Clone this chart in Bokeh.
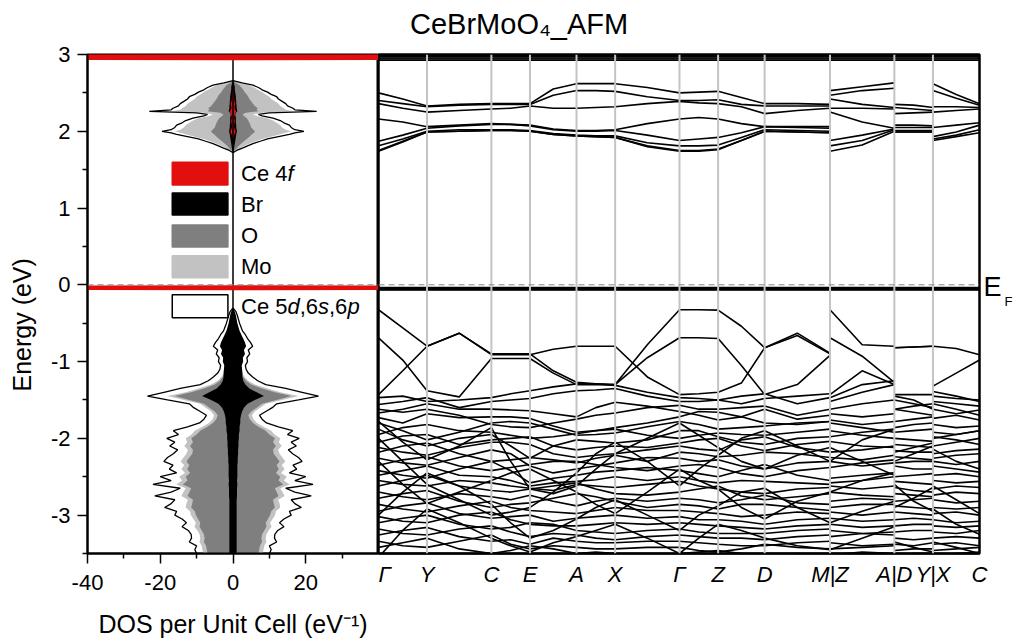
from bokeh.plotting import figure
from bokeh.layouts import row
from bokeh.models import Range1d, FixedTicker, Label, Span, LinearAxis
from bokeh.embed import file_html
from bokeh.resources import INLINE

FONT = "Liberation Sans"

TITLE = "CeBrMoO₄_AFM"
TITLE_X = [142]
DOS_XLABEL = "DOS per Unit Cell (eV⁻¹)"
YLABEL = "Energy (eV)"
YLABEL_PAD = "\u00a0" * 6   # shifts the rotated label down, as in the original

# ---------------- k-path ----------------
K_LABELS = ["Γ", "Y", "C", "E", "A", "X", "Γ", "Z", "D", "M|Z", "A|D", "Y|X", "C"]
K_POS = [0, 49, 114, 153, 200, 239, 304, 343, 390, 456, 521, 560, 607]
K_P1 = [0, 24.5, 49, 81.5, 114, 133.5, 153, 176.5, 200, 219.5,
        239, 271.5, 304, 323.5, 343, 366.5, 390, 423, 456]
K_P2 = [456, 488.5, 521]
K_P3 = [521, 540.5, 560]
K_P4 = [560, 583.5, 607]

# ---------------- bands (eV): 19 pts on path 1, then 3+3+3 ----------------
C1 = [2.50, 2.42, 2.33, 2.35, 2.36, 2.36, 2.36, 2.55, 2.62, 2.62,
      2.62, 2.57, 2.50, 2.51, 2.52, 2.44, 2.36, 2.36, 2.35,
      2.53, 2.58, 2.63, 2.35, 2.34, 2.31, 2.62, 2.48, 2.36]
C2 = [2.40, 2.36, 2.32, 2.34, 2.35, 2.35, 2.35, 2.47, 2.53, 2.53,
      2.52, 2.45, 2.40, 2.40, 2.41, 2.35, 2.33, 2.33, 2.33,
      2.47, 2.53, 2.56, 2.31, 2.29, 2.27, 2.53, 2.43, 2.34]
C3 = [2.36, 2.30, 2.25, 2.27, 2.29, 2.30, 2.33, 2.30, 2.30, 2.31,
      2.32, 2.36, 2.39, 2.37, 2.36, 2.32, 2.23, 2.27, 2.30,
      2.42, 2.35, 2.31, 2.23, 2.24, 2.25, 2.32, 2.32, 2.31]
C4 = [2.16, 2.12, 2.06, 2.08, 2.10, 2.09, 2.08, 2.03, 2.01, 2.01,
      2.02, 2.10, 2.16, 2.18, 2.16, 2.10, 2.06, 2.06, 2.06,
      2.30, 2.30, 2.29, 2.08, 2.08, 2.07, 2.25, 2.27, 2.29]
C5 = [1.87, 1.95, 2.04, 2.07, 2.09, 2.09, 2.07, 2.02, 2.00, 2.00,
      2.01, 1.95, 1.88, 1.90, 1.92, 1.98, 2.06, 2.05, 2.04,
      2.25, 2.12, 2.04, 2.05, 2.05, 2.05, 2.05, 2.08, 2.11]
C6 = [1.81, 1.90, 2.00, 2.02, 2.02, 2.02, 2.01, 1.97, 1.95, 1.94,
      1.94, 1.85, 1.81, 1.81, 1.82, 1.92, 2.02, 2.01, 2.00,
      1.88, 1.95, 2.03, 2.01, 2.01, 2.01, 1.93, 1.99, 2.08]
C7 = [1.74, 1.86, 1.99, 2.00, 2.01, 2.01, 2.00, 1.96, 1.94, 1.93,
      1.92, 1.80, 1.74, 1.74, 1.76, 1.88, 2.00, 1.99, 1.98,
      1.81, 1.88, 2.02, 1.99, 1.99, 1.99, 1.90, 1.95, 2.02]
C8 = [1.75, 1.87, 1.99, 2.00, 2.01, 2.01, 2.00, 1.96, 1.94, 1.93,
      1.92, 1.81, 1.75, 1.75, 1.77, 1.88, 2.00, 1.99, 1.98,
      1.74, 1.82, 2.00, 1.99, 1.99, 1.99, 1.88, 1.93, 1.98]

VA = [-0.325, -0.56, -0.80, -0.63, -0.91, -0.91, -0.91, -0.84, -0.80, -0.80,
      -0.80, -1.20, -1.43, -1.42, -1.40, -1.28, -0.82, -0.66, -0.90,
      -1.43, -1.12, -1.30, -0.82, -0.81, -0.80, -1.32, -1.15, -0.98]
VB = [-0.69, -0.98, -1.38, -1.46, -0.96, -0.96, -0.96, -1.15, -1.30, -1.30,
      -1.30, -0.95, -0.69, -0.69, -0.70, -1.05, -1.43, -1.30, -0.92,
      -0.69, -0.93, -1.27, -1.43, -1.43, -1.43, -1.39, -1.45, -1.52]
VC = [-1.43, -1.12, -0.80, -0.63, -0.90, -0.90, -0.90, -1.12, -1.27, -1.29,
      -1.30, -0.78, -0.325, -0.325, -0.33, -0.54, -0.82, -0.63, -0.89,
      -0.325, -0.78, -0.80, -0.82, -0.81, -0.80, -0.80, -0.83, -0.91]
D1 = [-1.47, -1.45, -1.52, -1.50, -1.47, -1.42, -1.38, -1.33, -1.29, -1.29,
      -1.31, -1.40, -1.47, -1.48, -1.50, -1.45, -1.42, -1.55, -1.47,
      -1.47, -1.30, -1.25, -1.45, -1.50, -1.62, -1.45, -1.48, -1.50]
D2 = [-1.56, -1.52, -1.47, -1.60, -1.52, -1.50, -1.48, -1.42, -1.38, -1.37,
      -1.35, -1.45, -1.52, -1.52, -1.50, -1.55, -1.48, -1.45, -1.42,
      -1.52, -1.40, -1.30, -1.50, -1.55, -1.60, -1.52, -1.55, -1.58]
D3 = [-1.62, -1.66, -1.62, -1.70, -1.82, -1.85, -1.86, -1.80, -1.75, -1.70,
      -1.67, -1.60, -1.57, -1.62, -1.62, -1.60, -1.58, -1.70, -1.62,
      -1.62, -1.55, -1.50, -1.62, -1.58, -1.55, -1.55, -1.62, -1.70]
D4 = [-1.67, -1.62, -1.55, -1.62, -1.62, -1.63, -1.64, -1.68, -1.72, -1.60,
      -1.53, -1.58, -1.65, -1.70, -1.76, -1.72, -1.62, -1.75, -1.70,
      -1.68, -1.72, -1.68, -1.62, -1.66, -1.70, -1.62, -1.68, -1.63]
D5 = [-1.73, -1.80, -1.68, -1.73, -1.72, -1.72, -1.74, -1.84, -1.92, -1.90,
      -1.86, -1.80, -1.72, -1.65, -1.66, -1.72, -1.80, -1.82, -1.78,
      -1.76, -1.82, -1.78, -1.78, -1.75, -1.72, -1.74, -1.70, -1.76]
V1 = [-1.80, -1.90, -2.02, -1.92, -1.80, -1.78, -1.80, -1.88, -1.96, -1.95,
      -1.93, -1.85, -1.78, -1.82, -1.88, -1.86, -1.84, -1.80, -1.78,
      -1.80, -1.86, -1.92, -1.86, -1.82, -1.80, -1.82, -1.86, -1.84]
V2 = [-1.95, -1.86, -1.82, -1.90, -1.92, -1.96, -2.00, -1.98, -1.94, -1.90,
      -1.88, -1.96, -2.00, -1.96, -1.93, -1.95, -1.96, -1.92, -1.88,
      -1.90, -1.96, -2.00, -1.92, -1.90, -1.88, -1.92, -1.95, -1.90]
V3 = [-1.88, -2.02, -2.10, -2.00, -1.95, -2.10, -2.26, -2.10, -2.02, -2.04,
      -2.06, -2.02, -1.90, -1.90, -1.98, -2.05, -2.08, -2.00, -1.98,
      -1.98, -1.92, -1.88, -2.00, -2.02, -2.04, -1.98, -2.02, -2.08]
V4 = [-2.05, -1.97, -1.95, -2.08, -2.02, -2.00, -1.98, -2.10, -2.15, -2.12,
      -2.10, -2.12, -2.06, -2.02, -2.00, -2.10, -2.16, -2.08, -2.04,
      -2.04, -2.10, -2.12, -2.08, -2.10, -2.12, -2.10, -2.05, -2.00]
V5 = [-2.12, -2.18, -2.22, -2.12, -2.05, -2.05, -2.08, -2.20, -2.25, -2.22,
      -2.20, -2.15, -2.10, -2.14, -2.16, -2.02, -1.98, -2.12, -2.18,
      -2.18, -2.15, -2.10, -2.16, -2.18, -2.18, -2.20, -2.16, -2.14]
V6 = [-2.18, -2.10, -2.06, -2.20, -2.30, -2.28, -2.25, -2.28, -2.32, -2.26,
      -2.22, -2.30, -2.18, -2.20, -2.24, -2.22, -2.18, -2.20, -2.25,
      -2.25, -2.28, -2.22, -2.24, -2.26, -2.28, -2.26, -2.22, -2.20]
V7 = [-2.26, -2.32, -2.35, -2.25, -2.15, -2.20, -2.36, -2.45, -2.40, -2.36,
      -2.32, -2.25, -2.26, -2.30, -2.28, -2.36, -2.40, -2.32, -2.30,
      -2.30, -2.36, -2.32, -2.32, -2.30, -2.30, -2.30, -2.34, -2.30]
V8 = [-2.35, -2.28, -2.24, -2.36, -2.42, -2.38, -2.34, -2.30, -2.30, -2.34,
      -2.38, -2.42, -2.36, -2.34, -2.38, -2.46, -2.50, -2.42, -2.38,
      -2.38, -2.32, -2.28, -2.36, -2.40, -2.40, -2.36, -2.40, -2.44]
V9 = [-2.42, -2.48, -2.52, -2.40, -2.30, -2.42, -2.58, -2.52, -2.48, -2.44,
      -2.42, -2.38, -2.42, -2.46, -2.50, -2.42, -2.34, -2.48, -2.55,
      -2.52, -2.48, -2.45, -2.50, -2.48, -2.46, -2.48, -2.46, -2.50]
V10 = [-2.48, -2.42, -2.36, -2.48, -2.50, -2.55, -2.62, -2.58, -2.56, -2.54,
       -2.50, -2.55, -2.50, -2.55, -2.58, -2.55, -2.56, -2.58, -2.60,
       -2.58, -2.55, -2.50, -2.56, -2.58, -2.60, -2.55, -2.58, -2.56]
V11 = [-2.55, -2.60, -2.62, -2.55, -2.58, -2.62, -2.65, -2.68, -2.60, -2.62,
       -2.64, -2.60, -2.56, -2.62, -2.66, -2.70, -2.72, -2.66, -2.64,
       -2.62, -2.66, -2.62, -2.64, -2.68, -2.70, -2.66, -2.62, -2.64]
V12 = [-2.62, -2.55, -2.48, -2.62, -2.68, -2.70, -2.66, -2.62, -2.58, -2.66,
       -2.72, -2.74, -2.70, -2.66, -2.62, -2.75, -2.80, -2.76, -2.72,
       -2.70, -2.74, -2.76, -2.72, -2.74, -2.76, -2.74, -2.70, -2.72]
V13 = [-2.70, -2.76, -2.80, -2.72, -2.76, -2.80, -2.74, -2.82, -2.88, -2.82,
       -2.78, -2.82, -2.78, -2.80, -2.84, -2.80, -2.74, -2.84, -2.86,
       -2.82, -2.78, -2.80, -2.82, -2.80, -2.78, -2.80, -2.84, -2.82]
V14 = [-2.78, -2.72, -2.68, -2.82, -2.90, -2.86, -2.84, -2.78, -2.72, -2.76,
       -2.82, -2.90, -2.86, -2.88, -2.92, -2.86, -2.86, -2.90, -2.94,
       -2.90, -2.86, -2.86, -2.88, -2.90, -2.92, -2.90, -2.92, -2.90]
V15 = [-2.86, -2.92, -2.96, -2.88, -2.82, -2.90, -2.94, -2.96, -2.98, -2.94,
       -2.90, -2.94, -2.94, -2.96, -2.98, -3.02, -3.00, -2.96, -2.98,
       -2.96, -3.00, -2.96, -2.96, -2.98, -3.00, -2.98, -2.96, -3.00]
V16 = [-2.95, -2.88, -2.84, -2.98, -3.04, -3.02, -3.00, -3.08, -3.04, -3.02,
       -3.00, -3.04, -3.02, -3.06, -3.06, -3.08, -3.12, -3.06, -3.04,
       -3.04, -3.08, -3.06, -3.06, -3.04, -3.06, -3.06, -3.10, -3.08]
V17 = [-3.02, -3.08, -3.10, -3.00, -2.96, -3.06, -3.12, -3.14, -3.14, -3.12,
       -3.10, -3.12, -3.10, -3.12, -3.14, -3.16, -3.18, -3.14, -3.12,
       -3.12, -3.16, -3.14, -3.14, -3.12, -3.12, -3.14, -3.16, -3.14]
V18 = [-3.10, -3.04, -3.00, -3.12, -3.18, -3.16, -3.10, -3.12, -3.20, -3.22,
       -3.24, -3.20, -3.18, -3.22, -3.24, -3.24, -3.24, -3.20, -3.18,
       -3.20, -3.24, -3.26, -3.22, -3.20, -3.20, -3.22, -3.24, -3.20]
V19 = [-3.18, -3.24, -3.26, -3.18, -3.14, -3.22, -3.28, -3.24, -3.26, -3.30,
       -3.32, -3.28, -3.26, -3.28, -3.30, -3.30, -3.32, -3.28, -3.26,
       -3.28, -3.24, -3.22, -3.30, -3.32, -3.30, -3.30, -3.28, -3.30]
V20 = [-3.26, -3.20, -3.16, -3.28, -3.34, -3.32, -3.38, -3.30, -3.34, -3.36,
       -3.36, -3.34, -3.34, -3.36, -3.38, -3.40, -3.40, -3.36, -3.34,
       -3.36, -3.40, -3.38, -3.38, -3.40, -3.36, -3.38, -3.36, -3.40]
V21 = [-3.34, -3.40, -3.42, -3.34, -3.26, -3.38, -3.44, -3.40, -3.42, -3.44,
       -3.44, -3.42, -3.42, -3.46, -3.48, -3.44, -3.38, -3.42, -3.44,
       -3.44, -3.42, -3.40, -3.46, -3.44, -3.44, -3.46, -3.44, -3.42]
V22 = [-3.42, -3.36, -3.30, -3.44, -3.50, -3.46, -3.40, -3.44, -3.50, -3.48,
       -3.50, -3.52, -3.50, -3.48, -3.46, -3.50, -3.54, -3.50, -3.52,
       -3.52, -3.48, -3.50, -3.52, -3.50, -3.50, -3.52, -3.50, -3.48]
S1 = [-1.78, -2.05, -2.28, -2.10, -1.86, -2.30, -2.66, -2.72, -2.62, -2.40,
      -2.20, -2.00, -1.80, -1.96, -2.12, -2.30, -2.40, -2.22, -2.12,
      -2.12, -2.30, -2.48, -2.30, -2.20, -2.10, -2.14, -2.30, -2.40]
S2 = [-2.30, -2.60, -2.85, -2.70, -2.55, -2.45, -2.40, -2.55, -2.70, -2.86,
      -2.98, -2.70, -2.40, -2.55, -2.66, -2.90, -3.05, -2.82, -2.70,
      -2.70, -2.55, -2.45, -2.60, -2.82, -2.95, -2.62, -2.80, -2.98]
S3 = [-3.00, -2.70, -2.45, -2.62, -2.86, -3.10, -3.30, -3.20, -3.05, -2.90,
      -2.80, -3.00, -3.20, -3.00, -2.88, -2.70, -2.65, -2.90, -3.10,
      -3.10, -2.95, -2.82, -2.90, -2.78, -2.64, -2.92, -3.12, -3.25]
S4 = [-2.00, -2.30, -2.60, -2.80, -3.00, -2.96, -2.90, -2.70, -2.45, -2.20,
      -2.05, -2.30, -2.62, -2.40, -2.22, -2.00, -1.90, -2.10, -2.30,
      -2.30, -2.02, -1.88, -2.18, -2.12, -2.06, -2.00, -1.95, -1.90]
S5 = [-3.55, -3.20, -2.92, -3.10, -3.30, -3.40, -3.48, -3.36, -3.28, -3.20,
      -3.12, -3.30, -3.50, -3.30, -3.12, -3.20, -3.30, -3.40, -3.45,
      -3.45, -3.30, -3.15, -3.35, -3.42, -3.48, -3.35, -3.42, -3.50]

BANDS = [C1, C2, C3, C4, C5, C6, C7, C8, VA, VB, VC, D1, D2, D3, D4, D5,
         V1, V2, V3, V4, V5, V6, V7, V8, V9, V10, V11, V12, V13, V14, V15,
         V16, V17, V18, V19, V20, V21, V22, S1, S2, S3, S4, S5]

# flat Ce 4f bands
F4_OCC = [-0.035, -0.045, -0.052, -0.060, -0.068]
F4_UNOCC = [2.925, 2.940, 2.955, 2.970, 2.985]

# ---------------- DOS (half width, mirrored) ----------------
VB_E = [-0.30, -0.35, -0.40, -0.45, -0.50, -0.55, -0.60, -0.65, -0.70, -0.75,
        -0.80, -0.85, -0.90, -0.95, -1.00, -1.05, -1.10, -1.15, -1.20, -1.25,
        -1.30, -1.35, -1.40, -1.45, -1.50, -1.55, -1.60, -1.65, -1.70, -1.75,
        -1.80, -1.85, -1.90, -1.95, -2.00, -2.05, -2.10, -2.15, -2.20, -2.25,
        -2.30, -2.35, -2.40, -2.45, -2.50, -2.55, -2.60, -2.65, -2.70, -2.75,
        -2.80, -2.85, -2.90, -2.95, -3.00, -3.05, -3.10, -3.15, -3.20, -3.25,
        -3.30, -3.35, -3.40, -3.45, -3.50]
VB_TOT = [0.0, 0.8, 1.2, 1.5, 1.8, 2.2, 2.6, 3.4, 4.0, 4.8,
          5.4, 4.2, 4.6, 3.8, 4.0, 3.4, 3.6, 4.2, 5.4, 6.8,
          9.0, 14.5, 19.0, 23.5, 18.0, 12.0, 10.8, 9.0, 7.3, 8.0,
          9.2, 12.5, 16.4, 15.0, 18.2, 16.0, 17.4, 15.2, 16.4, 18.0,
          19.0, 16.5, 17.5, 15.5, 20.0, 17.0, 22.0, 14.5, 17.0, 21.5,
          16.0, 17.0, 18.8, 15.5, 16.0, 14.0, 12.8, 14.0, 12.3, 11.5,
          11.4, 12.0, 10.0, 10.5, 10.0]
VB_MO = [0.0, 0.4, 0.7, 0.8, 1.0, 1.3, 1.5, 1.8, 2.1, 2.5,
         2.8, 2.5, 2.6, 2.3, 2.3, 2.1, 2.2, 2.5, 3.2, 4.2,
         6.0, 9.5, 13.0, 18.0, 13.5, 9.0, 7.5, 6.0, 5.2, 5.6,
         6.6, 8.4, 10.5, 11.4, 13.0, 12.6, 13.4, 12.4, 12.8, 13.6,
         14.4, 13.4, 14.2, 13.2, 14.8, 14.0, 15.6, 13.0, 13.6, 14.2,
         12.4, 12.8, 13.0, 11.8, 11.6, 10.9, 10.2, 10.6, 9.8, 9.2,
         9.0, 9.2, 8.6, 8.4, 8.2]
VB_O = [0.0, 0.3, 0.5, 0.6, 0.8, 1.0, 1.2, 1.5, 1.8, 2.2,
        2.5, 2.2, 2.3, 2.0, 2.0, 1.8, 1.9, 2.2, 2.8, 3.6,
        5.0, 8.0, 11.5, 16.0, 12.0, 8.0, 6.5, 5.0, 4.2, 4.6,
        5.5, 7.0, 9.0, 10.0, 11.5, 11.0, 11.8, 11.0, 11.2, 12.0,
        12.8, 12.0, 12.6, 11.8, 13.0, 12.5, 13.8, 11.5, 12.0, 12.5,
        11.0, 11.2, 11.5, 10.5, 10.2, 9.6, 9.0, 9.2, 8.6, 8.0,
        7.8, 8.0, 7.4, 7.2, 7.0]
VB_BR = [0.0, 0.5, 0.8, 1.0, 1.2, 1.5, 1.8, 2.3, 2.8, 3.3,
         3.6, 3.0, 3.3, 2.7, 2.8, 2.4, 2.5, 2.6, 2.6, 2.8,
         3.4, 4.5, 6.5, 8.5, 6.0, 4.0, 3.0, 2.5, 2.2, 2.0,
         2.0, 1.8, 1.8, 1.6, 1.6, 1.5, 1.5, 1.4, 1.4, 1.3,
         1.3, 1.2, 1.2, 1.2, 1.2, 1.1, 1.2, 1.1, 1.1, 1.1,
         1.0, 1.0, 1.0, 1.0, 1.0, 1.0, 1.0, 1.0, 1.0, 1.0,
         1.0, 1.0, 1.0, 1.0, 1.0]

CB_E = [1.72, 1.75, 1.78, 1.81, 1.84, 1.87, 1.90, 1.93, 1.96, 1.98,
        2.00, 2.02, 2.05, 2.08, 2.11, 2.14, 2.17, 2.20, 2.22, 2.24,
        2.26, 2.28, 2.30, 2.33, 2.36, 2.39, 2.42, 2.45, 2.48, 2.51,
        2.54, 2.57, 2.60, 2.63, 2.66]
CB_TOT = [0.0, 1.0, 2.6, 4.0, 5.5, 7.5, 9.5, 12.5, 15.5, 17.0,
          19.5, 17.0, 16.0, 15.5, 14.0, 13.0, 11.0, 8.0, 7.0, 10.0,
          23.0, 17.0, 16.5, 15.0, 14.5, 13.5, 12.5, 12.0, 10.5, 9.5,
          8.0, 7.0, 5.5, 2.5, 0.0]
CB_MO = [0.0, 0.8, 2.0, 3.2, 4.6, 6.3, 8.0, 10.5, 13.0, 14.5,
         16.0, 14.5, 13.5, 13.0, 12.0, 11.0, 9.5, 6.5, 5.5, 8.0,
         17.0, 14.5, 14.0, 13.0, 12.5, 11.5, 10.5, 10.0, 9.0, 8.0,
         6.8, 5.8, 4.5, 2.0, 0.0]
CB_O = [0.0, 0.4, 1.0, 1.6, 2.3, 3.0, 3.8, 4.5, 5.2, 5.8,
        6.0, 5.6, 5.0, 4.8, 4.5, 4.2, 3.8, 3.0, 2.6, 3.5,
        7.0, 6.5, 6.8, 6.0, 5.5, 5.0, 4.5, 4.2, 3.8, 3.2,
        2.8, 2.3, 1.8, 0.8, 0.0]
CB_BR = [0.0, 0.2, 0.3, 0.4, 0.5, 0.6, 0.7, 0.8, 0.9, 1.0,
         1.1, 1.0, 0.9, 0.9, 0.8, 0.8, 0.8, 0.7, 0.6, 0.8,
         1.2, 1.1, 1.0, 1.0, 0.9, 0.9, 0.8, 0.8, 0.7, 0.6,
         0.5, 0.5, 0.4, 0.2, 0.0]
CB_CE4F = [0.0, 0.0, 0.0, 0.0, 0.0, 0.0, 0.0, 0.2, 0.4, 0.6,
           0.8, 0.5, 0.3, 0.3, 0.4, 0.5, 0.3, 0.4, 0.5, 0.7,
           0.9, 0.6, 0.4, 0.5, 0.6, 0.4, 0.3, 0.3, 0.2, 0.2,
           0.1, 0.0, 0.0, 0.0, 0.0]

CE4F_OCC_E = [-0.005, -0.012, -0.065, -0.072]
CE4F_OCC_V = [0.0, 90.0, 90.0, 0.0]
CE4F_UNOCC_E = [2.925, 2.932, 3.0, 3.01]
CE4F_UNOCC_V = [0.0, 90.0, 90.0, 0.0]

LEGEND_COLORS = ["#e30f0f", "#000000", "#7f7f7f", "#c2c2c2", "#ffffff"]
RED = "#e30f0f"
DARK = "#7f7f7f"
LIGHT = "#c2c2c2"

DOS_XTICKS = [-40, -20, 0, 20]
DOS_XMINOR = [-30, -10, 10, 30]
E_TICKS = [-3, -2, -1, 0, 1, 2, 3]
E_MINOR = [-3.5, -2.5, -1.5, -0.5, 0.5, 1.5, 2.5]

y_rng = Range1d(-3.5, 3.0)
TICK_PX = "22px"

# ---------------- DOS panel ----------------
pd = figure(width=378, height=643, x_range=Range1d(-40, 40), y_range=y_rng,
            output_backend="svg", toolbar_location=None,
            min_border_left=87, min_border_right=0, min_border_top=54,
            min_border_bottom=90)
pd.grid.visible = False
pd.outline_line_color = "black"
pd.outline_line_width = 2


def neg(a):
    return [-v for v in a]


pd.harea(x1=neg(CB_MO), x2=CB_MO, y=CB_E, fill_color=LIGHT)
pd.harea(x1=neg(CB_O), x2=CB_O, y=CB_E, fill_color=DARK)
pd.harea(x1=neg(CB_BR), x2=CB_BR, y=CB_E, fill_color="black")
pd.harea(x1=neg(CB_CE4F), x2=CB_CE4F, y=CB_E, fill_color=RED)
pd.harea(x1=neg(VB_MO), x2=VB_MO, y=VB_E, fill_color=LIGHT)
pd.harea(x1=neg(VB_O), x2=VB_O, y=VB_E, fill_color=DARK)
pd.harea(x1=neg(VB_BR), x2=VB_BR, y=VB_E, fill_color="black")
for TOT, E in [(CB_TOT, CB_E), (VB_TOT, VB_E)]:
    pd.line(TOT, E, line_color="black", line_width=1.3)
    pd.line(neg(TOT), E, line_color="black", line_width=1.3)

pd.line([0, 0], [-3.5, 3.0], line_color="black", line_width=1.5)
pd.harea(x1=neg(CE4F_OCC_V), x2=CE4F_OCC_V, y=CE4F_OCC_E, fill_color=RED)
pd.harea(x1=neg(CE4F_UNOCC_V), x2=CE4F_UNOCC_V, y=CE4F_UNOCC_E, fill_color=RED)
pd.add_layout(Span(location=0, dimension="width", line_color="#888888",
                   line_dash="6 4", line_width=1))

# legend
LEG_TOP = [1.597, 1.195, 0.779, 0.377, -0.13]
LEG_BOT = [1.299, 0.909, 0.494, 0.091, -0.43]
for c, t, b in zip(LEGEND_COLORS, LEG_TOP, LEG_BOT):
    pd.quad(left=-16.7, right=-1.4, top=t, bottom=b, fill_color=c,
            line_color="black" if c == "#ffffff" else c, line_width=1.5)


def lab(fig, x, y, text, size, xo=0, italic=False, align="left", base="middle"):
    fig.add_layout(Label(x=x, y=y, x_offset=xo, text=text, text_font=FONT,
                         text_font_size=size, text_align=align, text_baseline=base,
                         text_font_style="italic" if italic else "normal",
                         text_color="black"))


LS = "22px"
mids = [(t + b) / 2 for t, b in zip(LEG_TOP, LEG_BOT)]
lab(pd, 2.2, mids[0], "Ce 4", LS)
lab(pd, 2.2, mids[0], "f", LS, xo=46.5, italic=True)
lab(pd, 2.2, mids[1], "Br", LS)
lab(pd, 2.2, mids[2], "O", LS)
lab(pd, 2.2, mids[3], "Mo", LS)
lab(pd, 2.2, mids[4], "Ce 5", LS)
lab(pd, 2.2, mids[4], "d", LS, xo=46.5, italic=True)
lab(pd, 2.2, mids[4], ",6", LS, xo=58.7)
lab(pd, 2.2, mids[4], "s", LS, xo=77.0, italic=True)
lab(pd, 2.2, mids[4], ",6", LS, xo=88.0)
lab(pd, 2.2, mids[4], "p", LS, xo=106.4, italic=True)

# axes
xa = pd.xaxis[0]
xa.ticker = FixedTicker(ticks=DOS_XTICKS, minor_ticks=DOS_XMINOR)
xa.major_label_overrides = {t: str(t) for t in DOS_XTICKS}
ya = pd.yaxis[0]
ya.ticker = FixedTicker(ticks=E_TICKS, minor_ticks=E_MINOR)
ya.major_label_overrides = {t: str(t) for t in E_TICKS}
for ax in (xa, ya):
    ax.axis_line_color = "black"
    ax.axis_line_width = 2
    ax.major_tick_in = 0
    ax.major_tick_out = 10
    ax.minor_tick_in = 0
    ax.minor_tick_out = 5
    ax.major_tick_line_width = 1.5
    ax.minor_tick_line_width = 1.5
    ax.major_tick_line_color = "black"
    ax.minor_tick_line_color = "black"
    ax.major_label_text_font = FONT
    ax.major_label_text_font_size = TICK_PX
    ax.major_label_text_color = "black"
    ax.axis_label_text_font = FONT
    ax.axis_label_text_font_size = "25px"
    ax.axis_label_text_font_style = "normal"
    ax.axis_label_text_color = "black"
xa.axis_label = DOS_XLABEL
xa.major_label_standoff = 11
xa.axis_label_standoff = 17
ya.axis_label = YLABEL + YLABEL_PAD
ya.major_label_standoff = 7
ya.axis_label_standoff = 12

# ---------------- band panel ----------------
pb = figure(width=637, height=643, x_range=Range1d(K_POS[0], K_POS[-1]), y_range=y_rng,
            output_backend="svg", toolbar_location=None, y_axis_location=None,
            min_border_left=0, min_border_right=30, min_border_top=54,
            min_border_bottom=90)
pb.grid.visible = False
pb.outline_line_color = "black"
pb.outline_line_width = 2.5

for k in K_POS[1:-1]:
    pb.add_layout(Span(location=k, dimension="height", line_color="#c4c4c4", line_width=2))
pb.add_layout(Span(location=0, dimension="width", line_color="#888888",
                   line_dash="6 4", line_width=1))

xs, ys = [], []
for b in BANDS:
    assert len(b) == 28
    xs += [K_P1, K_P2, K_P3, K_P4]
    ys += [b[:19], b[19:22], b[22:25], b[25:28]]
pb.multi_line(xs, ys, line_color="black", line_width=1.6)
for f in F4_OCC + F4_UNOCC:
    pb.line([K_POS[0], K_POS[-1]], [f, f], line_color="black", line_width=1.5)

bx = pb.xaxis[0]
bx.ticker = FixedTicker(ticks=K_POS)
bx.major_label_overrides = {k: s for k, s in zip(K_POS, K_LABELS)}
bx.major_tick_line_color = None
bx.minor_tick_line_color = None
bx.major_tick_out = 0
bx.axis_line_color = "black"
bx.axis_line_width = 2
bx.major_label_standoff = 8
bx.major_label_text_font = FONT
bx.major_label_text_font_size = TICK_PX
bx.major_label_text_font_style = "italic"
bx.major_label_text_color = "black"

# title as the single label of an axis above the band panel
tax = LinearAxis(ticker=FixedTicker(ticks=TITLE_X), major_label_overrides={TITLE_X[0]: TITLE},
                 axis_line_color=None, major_tick_line_color=None,
                 minor_tick_line_color=None, major_tick_out=0, major_tick_in=0,
                 minor_tick_out=0, minor_tick_in=0, major_label_standoff=15,
                 major_label_text_font=FONT, major_label_text_font_size="29px",
                 major_label_text_color="black")
pb.add_layout(tax, "above")

# Fermi level label via right-side label axes ("E" then subscript "F")
E_AXIS_TICK = [-0.03]
F_AXIS_TICK = [-0.22]
for ticks, txt, size, so in [(E_AXIS_TICK, "E", "27px", 4), (F_AXIS_TICK, "F", "13px", 0)]:
    ax = LinearAxis(ticker=FixedTicker(ticks=ticks), major_label_overrides={ticks[0]: txt},
                    axis_line_color=None, major_tick_line_color=None,
                    minor_tick_line_color=None, major_tick_out=0, major_tick_in=0,
                    minor_tick_out=0, minor_tick_in=0, major_label_standoff=so,
                    major_label_text_font=FONT, major_label_text_font_size=size,
                    major_label_text_color="black")
    pb.add_layout(ax, "right")

layout = row(pd, pb, spacing=0)
open("out.html", "w").write(file_html(layout, INLINE))
